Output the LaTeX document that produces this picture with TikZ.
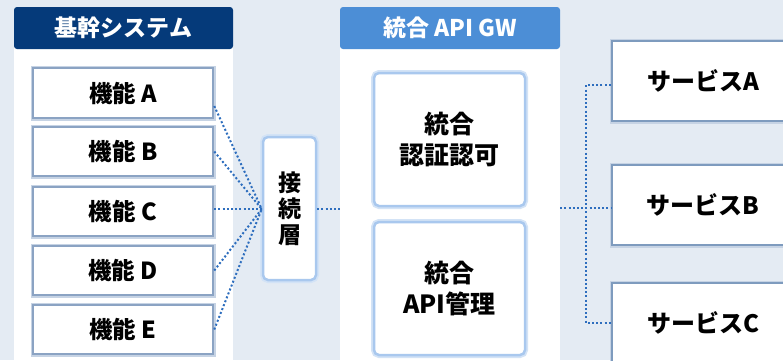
\documentclass[tikz,border=0pt]{standalone}
\usepackage{fontspec}
\newfontfamily\jp{Noto Sans CJK JP}
\usetikzlibrary{calc}
\definecolor{bg}{HTML}{E4EBF3}
\definecolor{navy}{HTML}{053A7A}
\definecolor{midblue}{HTML}{4C8ED6}
\definecolor{fborder}{HTML}{8BA3C3}
\definecolor{fglow}{HTML}{C6D3E4}
\definecolor{gborder}{HTML}{A9C8EE}
\definecolor{gglow}{HTML}{D3E3F6}
\definecolor{sborder}{HTML}{7E9BBE}
\definecolor{dotblue}{HTML}{2E6EBE}
\tikzset{
  txt/.style={font=\jp\bfseries\fontsize{23.5}{26}\selectfont, text=black, align=center, inner sep=0pt},
  hdr/.style={fill=#1, rounded corners=3pt, font=\jp\bfseries\fontsize{23}{26}\selectfont, text=white, inner sep=0pt},
  panel/.style={fill=white, inner sep=0pt},
  fbox/.style={txt, fill=white, preaction={draw=fglow, line width=5pt}, draw=fborder, line width=2.5pt, minimum width=180pt},
  gbox/.style={txt, fill=white, rounded corners=5pt, preaction={draw=gglow, line width=6pt}, draw=gborder, line width=2.5pt},
  sbox/.style={txt, font=\jp\bfseries\fontsize{24}{26}\selectfont, fill=white, preaction={draw=fglow, line width=5pt}, draw=sborder, line width=2.5pt, minimum width=182pt, minimum height=80pt},
  dotline/.style={draw=dotblue, line width=2pt, dash pattern=on 2pt off 2.2pt}
}
\begin{document}
\begin{tikzpicture}[x=1pt,y=-1pt]
\useasboundingbox (0,0) rectangle (783,360);
\clip (0,0) rectangle (783,360);
\fill[bg] (0,0) rectangle (783,360);
% left panel
\node[panel, minimum width=219pt, minimum height=330pt] (P1) at (123.5,205) {};
\node[hdr=navy, minimum width=219pt, minimum height=42pt] (H1) at (123.5,28) {基幹システム};
\node[fbox, minimum height=50pt] (A) at (123,93) {機能 A};
\node[fbox, minimum height=49pt] (B) at (123,151.5) {機能 B};
\node[fbox, minimum height=49pt] (C) at (123,211.5) {機能 C};
\node[fbox, minimum height=49pt] (D) at (123,270.5) {機能 D};
\node[fbox, minimum height=49pt] (E) at (123,329.5) {機能 E};
% connection layer
\node[gbox, minimum width=53pt, minimum height=143pt, font=\jp\bfseries\fontsize{23}{26}\selectfont] (J) at (289.5,208.5) {接\\続\\層};
% center panel
\node[panel, minimum width=220pt, minimum height=330pt] (P2) at (450,205) {};
\node[hdr=midblue, minimum width=220pt, minimum height=42pt] (H2) at (450,28) {統合 API GW};
\node[gbox, minimum width=151pt, minimum height=133pt, font=\jp\bfseries\fontsize{25}{31}\selectfont] (G1) at (449.5,139.5) {統合\\認証認可};
\node[gbox, minimum width=151pt, minimum height=133pt, font=\jp\bfseries\fontsize{25}{31}\selectfont] (G2) at (449.5,288.5) {統合\\API管理};
% services
\node[sbox] (SA) at (703,81) {サービスA};
\node[sbox] (SB) at (703,205) {サービスB};
\node[sbox] (SC) at (703,323) {サービスC};
\coordinate (fk) at (586,208);
% connectors
\draw[dotline] ($(A.east)+(0,13)$) -- ($(J.west)+(0,0.5)$);
\draw[dotline] (B.east) -- ($(J.west)+(0,0.5)$);
\draw[dotline] (C.east |- J.west) -- (J.west);
\draw[dotline] (D.east) -- ($(J.west)+(0,0.5)$);
\draw[dotline] (E.east) -- ($(J.west)+(0,0.5)$);
\draw[dotline] (J.east) -- (J.east -| P2.west);
\draw[dotline] (P2.east |- fk) -- (SB.west |- fk);
\draw[dotline] ($(SA.west)+(0,4)$) -- ($(SA.west -| fk)+(0,4)$) -- (SC.west -| fk) -- (SC.west);
\end{tikzpicture}
\end{document}
